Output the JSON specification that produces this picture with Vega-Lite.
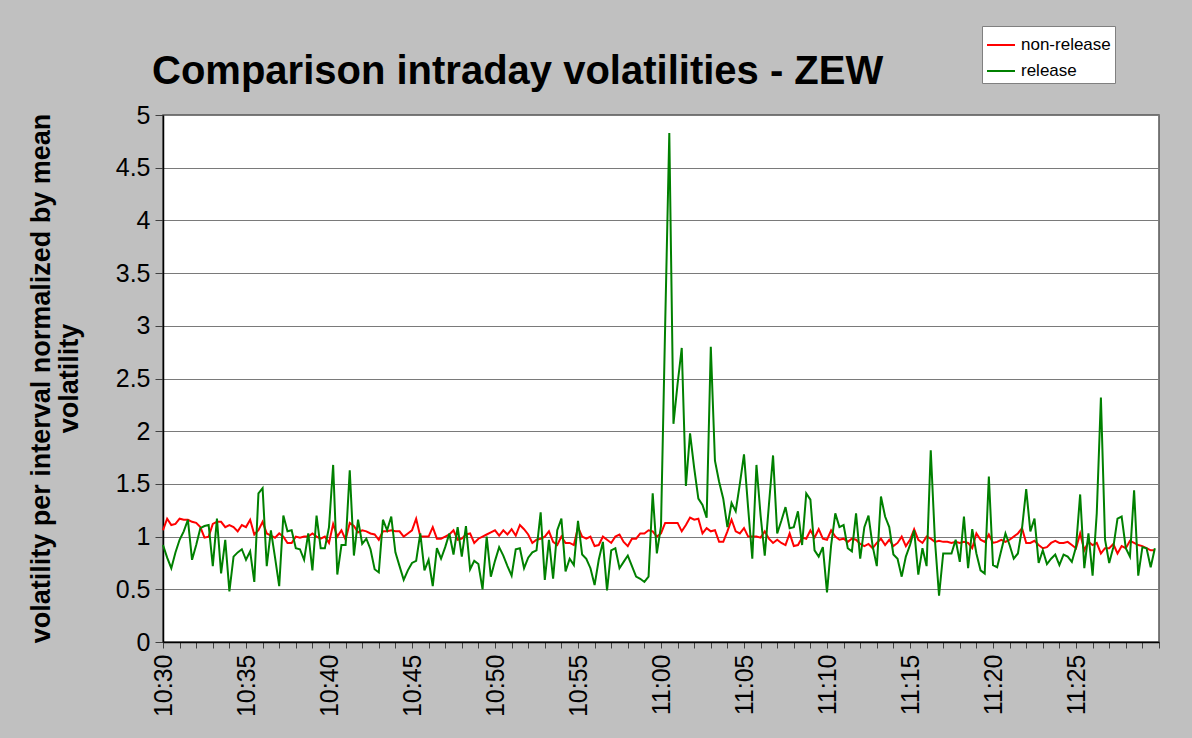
{
  "$schema": "https://vega.github.io/schema/vega-lite/v6.json",
  "width": 996,
  "height": 527,
  "autosize": {"type": "none"},
  "padding": {"left": 163, "top": 115, "right": 33, "bottom": 96},
  "background": "#c0c0c0",
  "title": {
    "text": "Comparison intraday volatilities - ZEW",
    "anchor": "start",
    "frame": "group",
    "dx": -11,
    "dy": 98,
    "offset": 0,
    "baseline": "alphabetic",
    "font": "Liberation Sans",
    "fontSize": 40,
    "fontWeight": "bold",
    "color": "#000000"
  },
  "data": {
    "format": {"parse": {"t": "utc:'%H:%M:%S'"}},
    "values": [
      {"t":"10:30:00","non-release":1.06,"release":0.92},{"t":"10:30:15","non-release":1.17,"release":0.80},{"t":"10:30:30","non-release":1.11,"release":0.70},{"t":"10:30:45","non-release":1.12,"release":0.85},
      {"t":"10:31:00","non-release":1.17,"release":0.97},{"t":"10:31:15","non-release":1.16,"release":1.05},{"t":"10:31:30","non-release":1.16,"release":1.16},{"t":"10:31:45","non-release":1.14,"release":0.78},
      {"t":"10:32:00","non-release":1.13,"release":0.92},{"t":"10:32:15","non-release":1.09,"release":1.08},{"t":"10:32:30","non-release":0.99,"release":1.10},{"t":"10:32:45","non-release":1.00,"release":1.11},
      {"t":"10:33:00","non-release":1.12,"release":0.72},{"t":"10:33:15","non-release":1.14,"release":1.17},{"t":"10:33:30","non-release":1.14,"release":0.65},{"t":"10:33:45","non-release":1.09,"release":0.97},
      {"t":"10:34:00","non-release":1.11,"release":0.48},{"t":"10:34:15","non-release":1.09,"release":0.81},{"t":"10:34:30","non-release":1.05,"release":0.85},{"t":"10:34:45","non-release":1.11,"release":0.88},
      {"t":"10:35:00","non-release":1.09,"release":0.78},{"t":"10:35:15","non-release":1.16,"release":0.86},{"t":"10:35:30","non-release":1.02,"release":0.57},{"t":"10:35:45","non-release":1.06,"release":1.41},
      {"t":"10:36:00","non-release":1.14,"release":1.46},{"t":"10:36:15","non-release":1.03,"release":0.72},{"t":"10:36:30","non-release":1.01,"release":1.06},{"t":"10:36:45","non-release":0.99,"release":0.80},
      {"t":"10:37:00","non-release":1.03,"release":0.53},{"t":"10:37:15","non-release":1.00,"release":1.20},{"t":"10:37:30","non-release":0.94,"release":1.05},{"t":"10:37:45","non-release":0.94,"release":1.06},
      {"t":"10:38:00","non-release":1.00,"release":0.89},{"t":"10:38:15","non-release":0.99,"release":0.88},{"t":"10:38:30","non-release":1.00,"release":0.78},{"t":"10:38:45","non-release":1.00,"release":1.03},
      {"t":"10:39:00","non-release":1.03,"release":0.68},{"t":"10:39:15","non-release":1.00,"release":1.20},{"t":"10:39:30","non-release":0.98,"release":0.89},{"t":"10:39:45","non-release":1.00,"release":0.89},
      {"t":"10:40:00","non-release":0.94,"release":1.09},{"t":"10:40:15","non-release":1.12,"release":1.68},{"t":"10:40:30","non-release":1.00,"release":0.64},{"t":"10:40:45","non-release":1.06,"release":0.92},
      {"t":"10:41:00","non-release":0.97,"release":0.92},{"t":"10:41:15","non-release":1.13,"release":1.63},{"t":"10:41:30","non-release":1.10,"release":0.82},{"t":"10:41:45","non-release":1.04,"release":1.16},
      {"t":"10:42:00","non-release":1.06,"release":0.93},{"t":"10:42:15","non-release":1.05,"release":0.98},{"t":"10:42:30","non-release":1.03,"release":0.88},{"t":"10:42:45","non-release":1.02,"release":0.69},
      {"t":"10:43:00","non-release":0.97,"release":0.66},{"t":"10:43:15","non-release":1.05,"release":1.16},{"t":"10:43:30","non-release":1.05,"release":1.06},{"t":"10:43:45","non-release":1.06,"release":1.19},
      {"t":"10:44:00","non-release":1.05,"release":0.85},{"t":"10:44:15","non-release":1.05,"release":0.72},{"t":"10:44:30","non-release":1.00,"release":0.59},{"t":"10:44:45","non-release":1.03,"release":0.68},
      {"t":"10:45:00","non-release":1.06,"release":0.75},{"t":"10:45:15","non-release":1.17,"release":0.77},{"t":"10:45:30","non-release":1.00,"release":1.03},{"t":"10:45:45","non-release":1.00,"release":0.68},
      {"t":"10:46:00","non-release":1.00,"release":0.78},{"t":"10:46:15","non-release":1.09,"release":0.53},{"t":"10:46:30","non-release":0.98,"release":0.89},{"t":"10:46:45","non-release":0.98,"release":0.79},
      {"t":"10:47:00","non-release":1.00,"release":0.90},{"t":"10:47:15","non-release":1.02,"release":1.03},{"t":"10:47:30","non-release":1.06,"release":0.83},{"t":"10:47:45","non-release":0.97,"release":1.09},
      {"t":"10:48:00","non-release":0.98,"release":0.81},{"t":"10:48:15","non-release":1.02,"release":1.10},{"t":"10:48:30","non-release":1.03,"release":0.69},{"t":"10:48:45","non-release":0.94,"release":0.77},
      {"t":"10:49:00","non-release":0.98,"release":0.74},{"t":"10:49:15","non-release":1.00,"release":0.50},{"t":"10:49:30","non-release":1.02,"release":1.00},{"t":"10:49:45","non-release":1.04,"release":0.62},
      {"t":"10:50:00","non-release":1.06,"release":0.77},{"t":"10:50:15","non-release":1.01,"release":0.90},{"t":"10:50:30","non-release":1.06,"release":0.82},{"t":"10:50:45","non-release":1.02,"release":0.72},
      {"t":"10:51:00","non-release":1.07,"release":0.63},{"t":"10:51:15","non-release":1.01,"release":0.88},{"t":"10:51:30","non-release":1.11,"release":0.89},{"t":"10:51:45","non-release":1.07,"release":0.70},
      {"t":"10:52:00","non-release":1.02,"release":0.80},{"t":"10:52:15","non-release":0.94,"release":0.85},{"t":"10:52:30","non-release":0.97,"release":0.87},{"t":"10:52:45","non-release":0.98,"release":1.23},
      {"t":"10:53:00","non-release":1.00,"release":0.59},{"t":"10:53:15","non-release":1.05,"release":0.97},{"t":"10:53:30","non-release":0.95,"release":0.60},{"t":"10:53:45","non-release":0.92,"release":1.06},
      {"t":"10:54:00","non-release":1.00,"release":1.17},{"t":"10:54:15","non-release":0.94,"release":0.67},{"t":"10:54:30","non-release":0.94,"release":0.79},{"t":"10:54:45","non-release":0.92,"release":0.73},
      {"t":"10:55:00","non-release":1.09,"release":1.15},{"t":"10:55:15","non-release":1.00,"release":0.83},{"t":"10:55:30","non-release":0.98,"release":0.79},{"t":"10:55:45","non-release":1.00,"release":0.70},
      {"t":"10:56:00","non-release":0.91,"release":0.54},{"t":"10:56:15","non-release":0.92,"release":0.78},{"t":"10:56:30","non-release":1.00,"release":0.95},{"t":"10:56:45","non-release":0.97,"release":0.49},
      {"t":"10:57:00","non-release":0.94,"release":0.87},{"t":"10:57:15","non-release":1.00,"release":0.89},{"t":"10:57:30","non-release":1.02,"release":0.70},{"t":"10:57:45","non-release":0.95,"release":0.76},
      {"t":"10:58:00","non-release":0.91,"release":0.82},{"t":"10:58:15","non-release":0.98,"release":0.72},{"t":"10:58:30","non-release":0.98,"release":0.62},{"t":"10:58:45","non-release":1.03,"release":0.60},
      {"t":"10:59:00","non-release":1.03,"release":0.57},{"t":"10:59:15","non-release":1.06,"release":0.62},{"t":"10:59:30","non-release":1.05,"release":1.41},{"t":"10:59:45","non-release":1.00,"release":0.84},
      {"t":"11:00:00","non-release":1.03,"release":1.10},{"t":"11:00:15","non-release":1.13,"release":3.00},{"t":"11:00:30","non-release":1.13,"release":4.83},{"t":"11:00:45","non-release":1.13,"release":2.07},
      {"t":"11:01:00","non-release":1.13,"release":2.45},{"t":"11:01:15","non-release":1.05,"release":2.79},{"t":"11:01:30","non-release":1.11,"release":1.48},{"t":"11:01:45","non-release":1.18,"release":1.98},
      {"t":"11:02:00","non-release":1.16,"release":1.65},{"t":"11:02:15","non-release":1.17,"release":1.36},{"t":"11:02:30","non-release":1.03,"release":1.30},{"t":"11:02:45","non-release":1.08,"release":1.18},
      {"t":"11:03:00","non-release":1.05,"release":2.80},{"t":"11:03:15","non-release":1.06,"release":1.72},{"t":"11:03:30","non-release":0.95,"release":1.52},{"t":"11:03:45","non-release":0.95,"release":1.36},
      {"t":"11:04:00","non-release":1.05,"release":1.09},{"t":"11:04:15","non-release":1.16,"release":1.32},{"t":"11:04:30","non-release":1.05,"release":1.24},{"t":"11:04:45","non-release":1.03,"release":1.50},
      {"t":"11:05:00","non-release":1.08,"release":1.78},{"t":"11:05:15","non-release":1.00,"release":1.27},{"t":"11:05:30","non-release":1.00,"release":0.79},{"t":"11:05:45","non-release":1.00,"release":1.68},
      {"t":"11:06:00","non-release":0.99,"release":1.20},{"t":"11:06:15","non-release":1.05,"release":0.82},{"t":"11:06:30","non-release":0.98,"release":1.30},{"t":"11:06:45","non-release":0.94,"release":1.77},
      {"t":"11:07:00","non-release":0.97,"release":1.03},{"t":"11:07:15","non-release":0.94,"release":1.15},{"t":"11:07:30","non-release":0.92,"release":1.28},{"t":"11:07:45","non-release":1.03,"release":1.08},
      {"t":"11:08:00","non-release":0.91,"release":1.09},{"t":"11:08:15","non-release":0.92,"release":1.24},{"t":"11:08:30","non-release":0.99,"release":0.92},{"t":"11:08:45","non-release":0.98,"release":1.41},
      {"t":"11:09:00","non-release":1.06,"release":1.35},{"t":"11:09:15","non-release":0.99,"release":0.87},{"t":"11:09:30","non-release":1.07,"release":0.81},{"t":"11:09:45","non-release":0.98,"release":0.90},
      {"t":"11:10:00","non-release":0.97,"release":0.47},{"t":"11:10:15","non-release":1.06,"release":0.92},{"t":"11:10:30","non-release":1.00,"release":1.22},{"t":"11:10:45","non-release":0.97,"release":1.09},
      {"t":"11:11:00","non-release":0.98,"release":1.11},{"t":"11:11:15","non-release":0.95,"release":0.89},{"t":"11:11:30","non-release":0.98,"release":0.86},{"t":"11:11:45","non-release":0.97,"release":1.22},
      {"t":"11:12:00","non-release":0.93,"release":0.79},{"t":"11:12:15","non-release":0.91,"release":1.09},{"t":"11:12:30","non-release":0.93,"release":1.20},{"t":"11:12:45","non-release":0.89,"release":0.91},
      {"t":"11:13:00","non-release":0.94,"release":0.72},{"t":"11:13:15","non-release":0.98,"release":1.38},{"t":"11:13:30","non-release":0.92,"release":1.19},{"t":"11:13:45","non-release":0.97,"release":1.09},
      {"t":"11:14:00","non-release":0.91,"release":0.83},{"t":"11:14:15","non-release":0.94,"release":0.79},{"t":"11:14:30","non-release":1.00,"release":0.62},{"t":"11:14:45","non-release":0.91,"release":0.81},
      {"t":"11:15:00","non-release":0.97,"release":0.92},{"t":"11:15:15","non-release":1.07,"release":1.06},{"t":"11:15:30","non-release":0.97,"release":0.64},{"t":"11:15:45","non-release":0.94,"release":0.89},
      {"t":"11:16:00","non-release":1.00,"release":0.72},{"t":"11:16:15","non-release":0.98,"release":1.82},{"t":"11:16:30","non-release":0.95,"release":0.97},{"t":"11:16:45","non-release":0.96,"release":0.44},
      {"t":"11:17:00","non-release":0.95,"release":0.84},{"t":"11:17:15","non-release":0.95,"release":0.84},{"t":"11:17:30","non-release":0.94,"release":0.84},{"t":"11:17:45","non-release":0.95,"release":0.97},
      {"t":"11:18:00","non-release":0.94,"release":0.76},{"t":"11:18:15","non-release":0.95,"release":1.19},{"t":"11:18:30","non-release":0.94,"release":0.70},{"t":"11:18:45","non-release":0.89,"release":1.07},
      {"t":"11:19:00","non-release":1.03,"release":0.84},{"t":"11:19:15","non-release":0.97,"release":0.68},{"t":"11:19:30","non-release":0.95,"release":0.65},{"t":"11:19:45","non-release":1.02,"release":1.57},
      {"t":"11:20:00","non-release":0.94,"release":0.73},{"t":"11:20:15","non-release":0.95,"release":0.71},{"t":"11:20:30","non-release":0.97,"release":0.87},{"t":"11:20:45","non-release":0.95,"release":1.03},
      {"t":"11:21:00","non-release":0.97,"release":0.92},{"t":"11:21:15","non-release":1.00,"release":0.79},{"t":"11:21:30","non-release":1.03,"release":0.84},{"t":"11:21:45","non-release":1.08,"release":1.08},
      {"t":"11:22:00","non-release":0.94,"release":1.45},{"t":"11:22:15","non-release":0.94,"release":1.05},{"t":"11:22:30","non-release":0.96,"release":1.17},{"t":"11:22:45","non-release":0.92,"release":0.75},
      {"t":"11:23:00","non-release":0.89,"release":0.87},{"t":"11:23:15","non-release":0.90,"release":0.74},{"t":"11:23:30","non-release":0.94,"release":0.79},{"t":"11:23:45","non-release":0.96,"release":0.83},
      {"t":"11:24:00","non-release":0.94,"release":0.73},{"t":"11:24:15","non-release":0.94,"release":0.83},{"t":"11:24:30","non-release":0.95,"release":0.81},{"t":"11:24:45","non-release":0.92,"release":0.76},
      {"t":"11:25:00","non-release":0.89,"release":0.90},{"t":"11:25:15","non-release":1.03,"release":1.40},{"t":"11:25:30","non-release":0.87,"release":0.70},{"t":"11:25:45","non-release":0.95,"release":1.03},
      {"t":"11:26:00","non-release":0.92,"release":0.63},{"t":"11:26:15","non-release":0.94,"release":1.22},{"t":"11:26:30","non-release":0.84,"release":2.32},{"t":"11:26:45","non-release":0.89,"release":0.97},
      {"t":"11:27:00","non-release":0.89,"release":0.75},{"t":"11:27:15","non-release":0.93,"release":0.90},{"t":"11:27:30","non-release":0.84,"release":1.17},{"t":"11:27:45","non-release":0.91,"release":1.19},
      {"t":"11:28:00","non-release":0.89,"release":0.89},{"t":"11:28:15","non-release":0.96,"release":0.81},{"t":"11:28:30","non-release":0.94,"release":1.44},{"t":"11:28:45","non-release":0.92,"release":0.63},
      {"t":"11:29:00","non-release":0.91,"release":0.90},{"t":"11:29:15","non-release":0.89,"release":0.89},{"t":"11:29:30","non-release":0.87,"release":0.71},{"t":"11:29:45","non-release":0.87,"release":0.89}
    ]
  },
  "transform": [{"fold": ["non-release", "release"], "as": ["series", "value"]}],
  "mark": {"type": "line", "strokeWidth": 2},
  "encoding": {
    "x": {
      "field": "t",
      "type": "temporal",
      "scale": {"type": "utc", "nice": false, "domain": [-2208951000000, -2208947400000]},
      "axis": {
        "title": null,
        "grid": false,
        "format": "%H:%M",
        "tickCount": 60,
        "labelExpr": "(+substring(datum.label, 3, 5) % 5 == 0 && datum.label != '11:30') ? datum.label : ''",
        "labelOverlap": false,
        "labelFlush": false,
        "labelAngle": 270,
        "labelAlign": "right",
        "labelBaseline": "middle",
        "labelFont": "Liberation Sans",
        "labelFontSize": 25,
        "labelColor": "#000000",
        "labelPadding": 6,
        "tickSize": 6,
        "tickColor": "#404040",
        "domainColor": "#000000",
        "domainWidth": 1.5
      }
    },
    "y": {
      "field": "value",
      "type": "quantitative",
      "scale": {"domain": [0, 5], "nice": false},
      "axis": {
        "values": [0, 0.5, 1, 1.5, 2, 2.5, 3, 3.5, 4, 4.5, 5],
        "format": "~g",
        "grid": true,
        "gridColor": "#7a7a7a",
        "gridOpacity": 1,
        "gridWidth": 1.2,
        "tickSize": 8,
        "tickColor": "#404040",
        "domainColor": "#000000",
        "domainWidth": 1.5,
        "labelFont": "Liberation Sans",
        "labelFontSize": 25,
        "labelColor": "#000000",
        "labelPadding": 5,
        "title": ["volatility per interval normalized by mean", "volatility"],
        "titleFont": "Liberation Sans",
        "titleFontSize": 27,
        "titleFontWeight": "bold",
        "titleColor": "#000000",
        "titleAngle": 270,
        "titleAlign": "center",
        "titleBaseline": "top",
        "titleLineHeight": 28,
        "titleX": -135,
        "titleY": 263
      }
    },
    "color": {
      "field": "series",
      "type": "nominal",
      "scale": {"domain": ["non-release", "release"], "range": ["#ff0000", "#008000"]},
      "legend": {
        "orient": "none",
        "legendX": 819,
        "legendY": -89,
        "title": null,
        "fillColor": "#ffffff",
        "strokeColor": "#808080",
        "padding": 4,
        "rowPadding": 3,
        "symbolType": "stroke",
        "symbolSize": 784,
        "symbolStrokeWidth": 2,
        "labelFont": "Liberation Sans",
        "labelFontSize": 17,
        "labelColor": "#000000",
        "labelOffset": 5
      }
    }
  },
  "config": {
    "view": {"stroke": "#555555", "strokeWidth": 1.5, "fill": "#ffffff"}
  }
}
